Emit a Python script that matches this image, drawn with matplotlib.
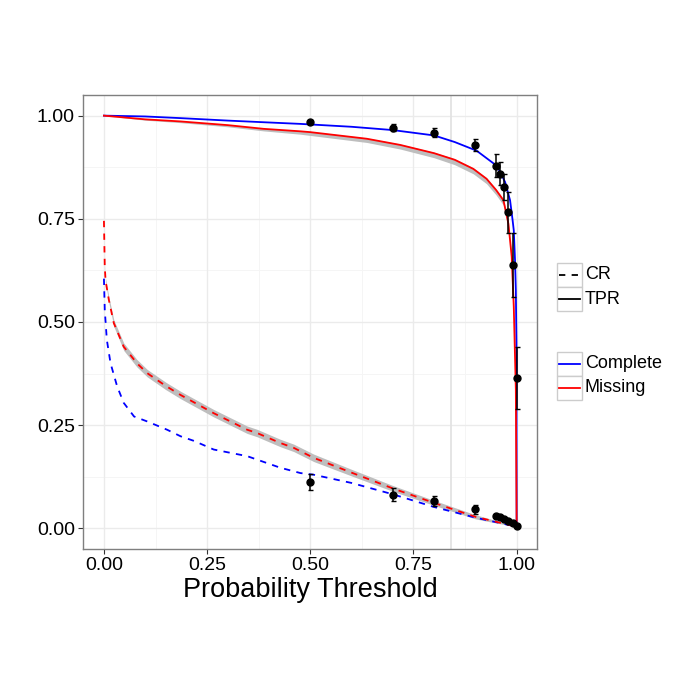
import matplotlib
matplotlib.use("Agg")
import matplotlib.pyplot as plt
from matplotlib.patches import Rectangle
from matplotlib.lines import Line2D
import numpy as np

plt.rcParams['font.family'] = ['Liberation Sans', 'DejaVu Sans']

# ---------------- data ----------------
# Complete, TPR (blue solid)
comp_tpr_x = [0.0, 0.05, 0.1, 0.185, 0.3, 0.387, 0.476, 0.6, 0.7, 0.8, 0.85, 0.903, 0.943, 0.952,
              0.972, 0.984, 0.99, 0.993, 0.996, 0.998, 0.9995, 1.0]
comp_tpr_y = [1.0, 0.999, 0.998, 0.994, 0.988, 0.984, 0.980, 0.973, 0.965, 0.952, 0.936, 0.915, 0.885, 0.879,
              0.839, 0.795, 0.748, 0.722, 0.650, 0.577, 0.45, 0.0]
# Missing, TPR (red solid)
miss_tpr_x = [0.0, 0.1, 0.185, 0.3, 0.387, 0.476, 0.5, 0.637, 0.718, 0.8, 0.85, 0.895, 0.927, 0.95,
              0.968, 0.98, 0.988, 0.993, 0.998, 1.0]
miss_tpr_y = [1.0, 0.991, 0.986, 0.977, 0.968, 0.962, 0.960, 0.944, 0.929, 0.909, 0.893, 0.871, 0.847, 0.82,
              0.795, 0.738, 0.658, 0.537, 0.336, 0.0]
# lower extent of the grey band below the Missing TPR curve
miss_tpr_band = [0.0, 0.002, 0.003, 0.004, 0.005, 0.007, 0.008, 0.009, 0.010, 0.011, 0.012, 0.012, 0.012,
                 0.012, 0.012, 0.012, 0.010, 0.008, 0.004, 0.0]
# Complete, CR (blue dashed)
comp_cr_x = [0.0, 0.002, 0.007, 0.016, 0.032, 0.048, 0.073, 0.105, 0.153, 0.186, 0.218, 0.266, 0.347,
             0.427, 0.476, 0.508, 0.6, 0.702, 0.799, 0.9, 1.0]
comp_cr_y = [0.605, 0.529, 0.457, 0.40, 0.344, 0.304, 0.271, 0.259, 0.239, 0.223, 0.212, 0.191, 0.175,
             0.147, 0.134, 0.130, 0.110, 0.082, 0.052, 0.026, 0.004]
# Missing, CR (red dashed)
miss_cr_x = [0.0, 0.002, 0.004, 0.012, 0.024, 0.048, 0.08, 0.105, 0.15, 0.186, 0.266, 0.347, 0.371,
             0.427, 0.46, 0.508, 0.6, 0.702, 0.799, 0.9, 0.95, 1.0]
miss_cr_y = [0.745, 0.634, 0.60, 0.553, 0.497, 0.44, 0.40, 0.376, 0.345, 0.323, 0.279, 0.239, 0.231,
             0.207, 0.195, 0.171, 0.135, 0.096, 0.062, 0.028, 0.016, 0.004]
# half-width of the grey band around the Missing CR curve
miss_cr_band = [0.0, 0.003, 0.005, 0.007, 0.008, 0.009, 0.009, 0.009, 0.009, 0.009, 0.009, 0.009, 0.009,
                0.009, 0.009, 0.009, 0.008, 0.007, 0.006, 0.005, 0.003, 0.0]

# observed points with error bars
pt_x = [0.5, 0.7, 0.8, 0.9, 0.95, 0.96, 0.97, 0.98, 0.99, 1.0]
pt_tpr = [0.984, 0.971, 0.959, 0.929, 0.879, 0.859, 0.827, 0.766, 0.638, 0.364]
pt_tpr_err = [0.005, 0.008, 0.010, 0.015, 0.028, 0.028, 0.032, 0.050, 0.078, 0.076]
pt_cr = [0.112, 0.082, 0.066, 0.046, 0.030, 0.027, 0.023, 0.019, 0.013, 0.005]
pt_cr_err = [0.020, 0.016, 0.013, 0.011, 0.004, 0.004, 0.003, 0.003, 0.003, 0.002]

x_ticks = [0.0, 0.25, 0.5, 0.75, 1.0]
y_ticks = [0.0, 0.25, 0.5, 0.75, 1.0]
tick_labels = ["0.00", "0.25", "0.50", "0.75", "1.00"]
extra_vline = 0.842

# ---------------- figure ----------------
W = H = 700
fig = plt.figure(figsize=(7, 7), dpi=100)
L, R, T, B = 83.3, 537.3, 95, 549
ax = fig.add_axes([L / W, 1 - B / H, (R - L) / W, (B - T) / H])
ax.set_xlim(-0.05, 1.05)
ax.set_ylim(-0.05, 1.05)

# grid
for v in [0.125, 0.375, 0.625, 0.875]:
    ax.axvline(v, color='#f5f5f5', lw=0.7, zorder=0)
    ax.axhline(v, color='#f5f5f5', lw=0.7, zorder=0)
for v in x_ticks:
    ax.axvline(v, color='#ebebeb', lw=1.0, zorder=0)
for v in y_ticks:
    ax.axhline(v, color='#ebebeb', lw=1.0, zorder=0)
ax.axvline(extra_vline, color='#e3e3e3', lw=1.3, zorder=0)

lw = 1.3
# ribbons
mtx = np.array(miss_tpr_x); mty = np.array(miss_tpr_y); mtb = np.array(miss_tpr_band)
ax.fill_between(mtx, mty - mtb, mty + 0.2 * mtb, color='#bebebe', lw=0, zorder=1)
mcx = np.array(miss_cr_x); mcy = np.array(miss_cr_y); mcb = np.array(miss_cr_band)
ax.fill_between(mcx, mcy - mcb, mcy + mcb, color='#bebebe', lw=0, zorder=1)

ax.plot(comp_tpr_x, comp_tpr_y, color='#0000ff', lw=lw, zorder=3)
ax.plot(miss_tpr_x, miss_tpr_y, color='#ff0000', lw=lw, zorder=3)
ax.plot(comp_cr_x, comp_cr_y, color='#0000ff', lw=lw, ls=(0, (3.5, 3.5)), zorder=3)
ax.plot(miss_cr_x, miss_cr_y, color='#ff0000', lw=lw, ls=(0, (3.5, 3.5)), zorder=3)

ax.errorbar(pt_x, pt_tpr, yerr=pt_tpr_err, fmt='o', color='black', ms=5, elinewidth=1.1,
            capsize=1.8, capthick=1.0, zorder=4)
ax.errorbar(pt_x, pt_cr, yerr=pt_cr_err, fmt='o', color='black', ms=5, elinewidth=1.1,
            capsize=1.8, capthick=1.0, zorder=4)

ax.set_xticks(x_ticks)
ax.set_xticklabels(tick_labels)
ax.set_yticks(y_ticks)
ax.set_yticklabels(tick_labels)
ax.tick_params(axis='both', length=3.6, width=0.8, color='#333333', labelsize=14, pad=2.5,
               labelcolor='black')
for s in ax.spines.values():
    s.set_color('#7f7f7f')
    s.set_linewidth(1.0)
ax.set_xlabel("Probability Threshold", fontsize=19.5, labelpad=1.5)

# ---------------- legends (drawn manually, ggplot style) ----------------
def fx(px):
    return px / W

def fy(py):
    return 1 - py / H

key_x0, key_x1 = 557, 582
keys = [
    (263, 'black', (0, (3.5, 3.5)), "CR"),
    (287, 'black', '-', "TPR"),
    (352, '#0000ff', '-', "Complete"),
    (376, '#ff0000', '-', "Missing"),
]
for top, col, ls, lab in keys:
    rect = Rectangle((fx(key_x0), fy(top + 24)), fx(key_x1) - fx(key_x0), (24) / H,
                     transform=fig.transFigure, facecolor='white', edgecolor='#cccccc', lw=1.0)
    fig.add_artist(rect)
    ln = Line2D([fx(key_x0 + 2), fx(key_x1 - 2)], [fy(top + 12), fy(top + 12)],
                transform=fig.transFigure, color=col, lw=lw, ls=ls)
    fig.add_artist(ln)
    fig.text(fx(585), fy(top + 12), lab, fontsize=13, va='center', ha='left')

fig.savefig("out.png", dpi=100, facecolor='white')
